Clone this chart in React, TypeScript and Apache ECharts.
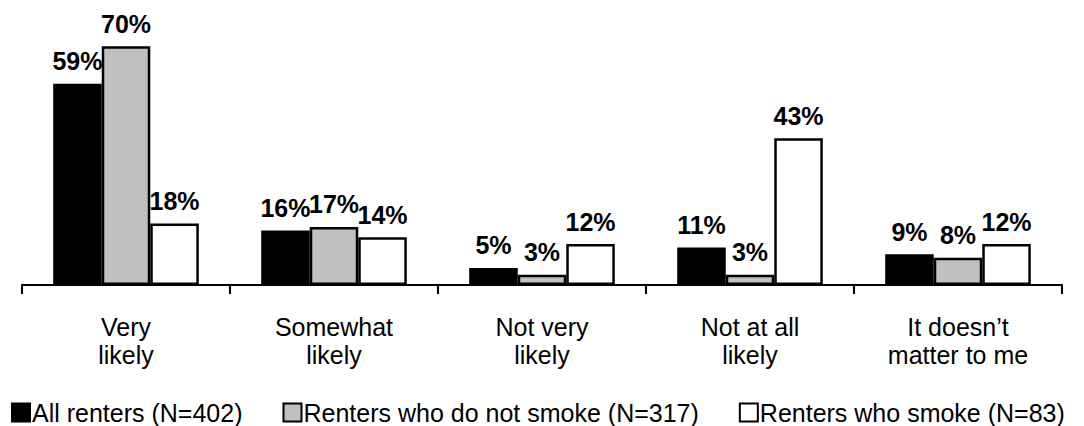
import React, { useEffect, useRef } from "react";
import * as echarts from "echarts";

const categories = ["Very\nlikely", "Somewhat\nlikely", "Not very\nlikely", "Not at all\nlikely", "It doesn’t\nmatter to me"];
const seriesNames = ["All renters (N=402)", "Renters who do not smoke (N=317)", "Renters who smoke (N=83)"];
const allRenters = [59, 16, 5, 11, 9];
const nonSmokers = [70, 17, 3, 3, 8];
const smokers = [18, 14, 12, 43, 12];
const seriesColors = ["#000000", "#C0C0C0", "#FFFFFF"];

export default function App() {
  const ref = useRef<HTMLDivElement>(null);
  useEffect(() => {
    document.body.style.margin = "0";
    if (!ref.current) return;
    const chart = echarts.init(ref.current, null, { renderer: "svg" });
    const font = "'Liberation Sans', Arial, sans-serif";
    const values = [allRenters, nonSmokers, smokers];
    chart.setOption({
      animation: false,
      backgroundColor: "#ffffff",
      grid: { left: 22, right: 22, top: 12, bottom: 141 },
      legend: {
        data: seriesNames.map((n) => ({ name: n, icon: "rect" })),
        left: 6,
        top: 398,
        width: 1078,
        padding: [2, 0, 0, 5],
        itemWidth: 18,
        itemHeight: 18,
        itemGap: 40,
        textStyle: { fontFamily: font, fontSize: 25, lineHeight: 22, color: "#000", padding: [0, 0, 0, -3] },
      },
      xAxis: {
        type: "category",
        data: categories,
        axisLine: { show: true, lineStyle: { color: "#000", width: 2 } },
        axisTick: { show: true, length: 9, lineStyle: { color: "#000", width: 2 } },
        axisLabel: {
          margin: 28,
          fontFamily: font,
          fontSize: 25,
          lineHeight: 28,
          color: "#000",
          interval: 0,
        },
      },
      yAxis: { type: "value", min: 0, max: 80, show: false, splitLine: { show: false } },
      series: values.map((v, i) => ({
        name: seriesNames[i],
        type: "bar",
        data: v,
        barGap: "0%",
        barCategoryGap: "30%",
        itemStyle: { color: seriesColors[i], borderColor: "#000", borderWidth: 2.5 },
        label: {
          show: true,
          position: "top",
          distance: 10,
          formatter: "{c}%",
          fontFamily: font,
          fontSize: 25,
          fontWeight: "bold",
          color: "#000",
        },
      })),
    });
    return () => chart.dispose();
  }, []);
  return <div ref={ref} style={{ width: 1084, height: 426 }} />;
}
